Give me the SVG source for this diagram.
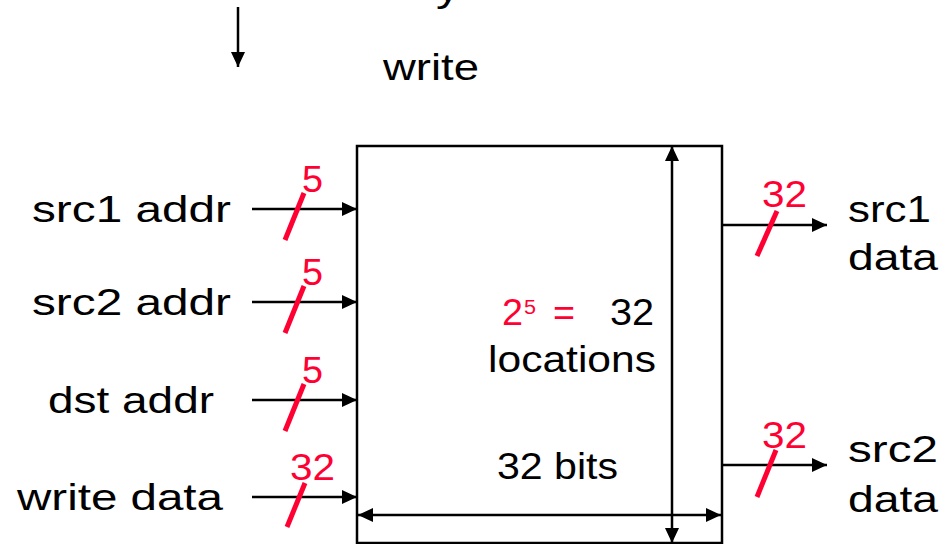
<svg xmlns="http://www.w3.org/2000/svg" width="949" height="544" viewBox="0 0 949 544">
<style>
text{font-family:"Liberation Sans",Arial,sans-serif;font-size:37px;fill:#000}
.r{fill:#ff0033}
.ln{stroke:#000;stroke-width:2.5;fill:none}
.sl{stroke:#ff0033;stroke-width:5;stroke-linecap:butt}
</style>
<defs>
<marker id="ah" markerUnits="userSpaceOnUse" markerWidth="16" markerHeight="14" refX="15" refY="7" orient="auto"><path d="M0,0 L15,7 L0,14 z" fill="#000"/></marker>
<marker id="as" markerUnits="userSpaceOnUse" markerWidth="16" markerHeight="14" refX="0" refY="7" orient="auto"><path d="M15,0 L0,7 L15,14 z" fill="#000"/></marker>
</defs>
<rect width="949" height="544" fill="#fff"/>
<g id="top">
<text x="436" y="0.5" textLength="24" lengthAdjust="spacingAndGlyphs">y</text>
<line class="ln" x1="238" y1="7" x2="238" y2="67" marker-end="url(#ah)"/>
<text x="383" y="80" textLength="96" lengthAdjust="spacingAndGlyphs">write</text>
</g>
<g id="regfile">
<rect x="357" y="146" width="365" height="397" class="ln"/>
<text class="r" x="502" y="325" textLength="21" lengthAdjust="spacingAndGlyphs">2</text>
<text class="r" x="524" y="314" style="font-size:20px" textLength="12" lengthAdjust="spacingAndGlyphs">5</text>
<text class="r" x="553" y="325" textLength="22" lengthAdjust="spacingAndGlyphs">=</text>
<text x="610" y="325" textLength="44" lengthAdjust="spacingAndGlyphs">32</text>
<text x="488" y="372" textLength="168" lengthAdjust="spacingAndGlyphs">locations</text>
<text x="497" y="479" textLength="121" lengthAdjust="spacingAndGlyphs">32 bits</text>
</g>
<g id="labels">
<text x="32" y="222" textLength="199" lengthAdjust="spacingAndGlyphs">src1 addr</text>
<text x="32" y="315" textLength="199" lengthAdjust="spacingAndGlyphs">src2 addr</text>
<text x="48" y="413" textLength="166" lengthAdjust="spacingAndGlyphs">dst addr</text>
<text x="17" y="510" textLength="206" lengthAdjust="spacingAndGlyphs">write data</text>
<text x="848" y="222" textLength="83" lengthAdjust="spacingAndGlyphs">src1</text>
<text x="848" y="270" textLength="90" lengthAdjust="spacingAndGlyphs">data</text>
<text x="848" y="462" textLength="90" lengthAdjust="spacingAndGlyphs">src2</text>
<text x="848" y="512" textLength="90" lengthAdjust="spacingAndGlyphs">data</text>
</g>
<g id="connectors">
<line class="ln" x1="252" y1="209" x2="357" y2="209" marker-end="url(#ah)"/>
<line class="ln" x1="252" y1="302" x2="357" y2="302" marker-end="url(#ah)"/>
<line class="ln" x1="252" y1="400" x2="357" y2="400" marker-end="url(#ah)"/>
<line class="ln" x1="252" y1="497" x2="357" y2="497" marker-end="url(#ah)"/>
<line class="ln" x1="722" y1="225" x2="827" y2="225" marker-end="url(#ah)"/>
<line class="ln" x1="722" y1="465" x2="827" y2="465" marker-end="url(#ah)"/>
<line class="ln" x1="672" y1="146" x2="672" y2="543" marker-start="url(#as)" marker-end="url(#ah)"/>
<line class="ln" x1="358" y1="515" x2="721" y2="515" marker-start="url(#as)" marker-end="url(#ah)"/>
</g>
<g id="widths">
<line class="sl" x1="285" y1="240" x2="304" y2="193"/>
<text class="r" x="302" y="192" textLength="21" lengthAdjust="spacingAndGlyphs">5</text>
<line class="sl" x1="285" y1="333" x2="304" y2="286"/>
<text class="r" x="302" y="285" textLength="21" lengthAdjust="spacingAndGlyphs">5</text>
<line class="sl" x1="285" y1="431" x2="304" y2="384"/>
<text class="r" x="302" y="383" textLength="21" lengthAdjust="spacingAndGlyphs">5</text>
<line class="sl" x1="287" y1="527" x2="305" y2="483"/>
<text class="r" x="290" y="480" textLength="45" lengthAdjust="spacingAndGlyphs">32</text>
<line class="sl" x1="757" y1="256" x2="777" y2="211"/>
<text class="r" x="762" y="207" textLength="45" lengthAdjust="spacingAndGlyphs">32</text>
<line class="sl" x1="757" y1="497" x2="776" y2="450"/>
<text class="r" x="762" y="448" textLength="45" lengthAdjust="spacingAndGlyphs">32</text>
</g>
</svg>
